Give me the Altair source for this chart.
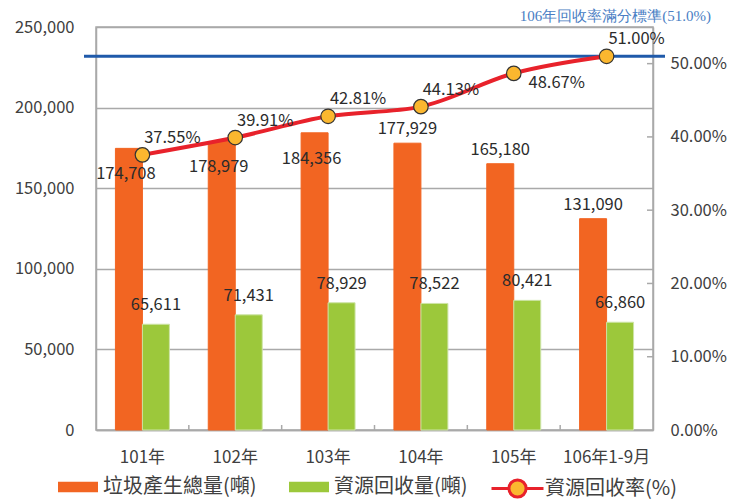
import altair as alt
import pandas as pd

# ---------------- data ----------------
years = ["101年", "102年", "103年", "104年", "105年", "106年1-9月"]
total_waste = [174708, 178979, 184356, 177929, 165180, 131090]
recycled = [65611, 71431, 78929, 78522, 80421, 66860]
recycle_rate = [0.3755, 0.3991, 0.4281, 0.4413, 0.4867, 0.5100]
series_names = ["垃圾產生總量(噸)", "資源回收量(噸)", "資源回收率(%)"]
target_rate = [0.51]
target_label = ["106年回收率滿分標準(51.0%)"]
left_ticks = [0, 50000, 100000, 150000, 200000, 250000]
right_ticks = [0.0, 0.1, 0.2, 0.3, 0.4, 0.5]

# ---------------- style ----------------
ORANGE = "#F26522"
GREEN = "#9CC83B"
GREEN_EDGE = "#CDE4A6"
RED = "#E8222B"
GOLD = "#FBB72F"
BLUE = "#1F5AAA"
BLUE_TEXT = "#4A7EC4"
GRID = "#A9A9A9"
TEXT = "#404040"
LABEL = "#2B2B2B"
FONT = "Noto Sans CJK TC"
W, H = 557, 403
LEFT_MAX, RIGHT_MAX = 250000, 0.55

bars_df = pd.DataFrame({
    "year": years * 2,
    "series": [series_names[0]] * len(years) + [series_names[1]] * len(years),
    "value": total_waste + recycled,
    "rate": recycle_rate * 2,
})
rate_df = pd.DataFrame({"year": years, "rate": recycle_rate,
                        "series": [series_names[2]] * len(years)})
target_df = pd.DataFrame({"rate": target_rate, "label": target_label})
xtick_df = pd.DataFrame({"year": years[1:]})
rtick_df = pd.DataFrame({"rate": right_ticks[1:]})

RECT_PATH = "M-1,-0.26H1V0.26H-1Z"
LINE_PATH = ("M-1,0H-0.33M0.33,0H1M-0.33,0A0.33,0.33,0,1,1,0.33,0"
             "A0.33,0.33,0,1,1,-0.33,0Z")

leg_common = dict(title=None, orient="none", direction="horizontal",
                  labelFont=FONT, labelFontSize=20, labelColor=TEXT,
                  labelLimit=400)
bar_legend = alt.Legend(legendX=-38, legendY=440, symbolType=RECT_PATH,
                        symbolSize=1600, symbolStrokeWidth=0, columnPadding=32,
                        labelOffset=5, **leg_common)
rate_legend = alt.Legend(legendX=394, legendY=434, symbolType=LINE_PATH,
                         symbolSize=2704, symbolStrokeWidth=3,
                         symbolFillColor=GOLD, labelOffset=0, **leg_common)


def x_enc(**kw):
    return alt.X(
        "year:N",
        scale=alt.Scale(domain=years, paddingInner=0, paddingOuter=0),
        axis=alt.Axis(title=None, labelAngle=0, ticks=False, labelPadding=19,
                      labelFontSize=17, labelFont=FONT, labelColor=TEXT,
                      domainColor=GRID, domainWidth=1.5),
        **kw,
    )


y_left = alt.Y(
    "value:Q",
    scale=alt.Scale(domain=[0, LEFT_MAX], nice=False),
    axis=alt.Axis(title=None, values=left_ticks, format=",.0f", grid=True,
                  gridColor=GRID, gridWidth=1.5, ticks=False, labelPadding=22,
                  labelFontSize=16.5, labelFont=FONT, labelColor=TEXT,
                  domainColor=GRID, domainWidth=1.5),
)
y_right = alt.Y(
    "rate:Q",
    scale=alt.Scale(domain=[0, RIGHT_MAX], nice=False),
    axis=alt.Axis(title=None, orient="right", values=right_ticks, format=".2%",
                  grid=False, ticks=False, labelPadding=17, labelFontSize=16.5,
                  labelFont=FONT, labelColor=TEXT, domainColor=GRID,
                  domainWidth=1.5),
)
x_off = alt.XOffset("series:N",
                    scale=alt.Scale(domain=series_names[:2], paddingInner=0,
                                    paddingOuter=0.72))

# ---------------- left (tonnage) layer ----------------
base_bars = alt.Chart(bars_df).transform_calculate(
    near=f"abs(datum.rate * {LEFT_MAX} / {RIGHT_MAX} - datum.value) < 15000"
)

bars = base_bars.mark_bar(strokeWidth=1).encode(
    x=x_enc(), xOffset=x_off, y=y_left,
    fill=alt.Fill("series:N",
                  scale=alt.Scale(domain=series_names[:2], range=[ORANGE, GREEN]),
                  legend=bar_legend),
    stroke=alt.condition(alt.datum.series == series_names[1],
                         alt.value(GREEN_EDGE), alt.value(ORANGE)),
)

txt = dict(font=FONT, fontSize=16.5, color=LABEL, baseline="middle")
total_above = base_bars.mark_text(dy=-14, **txt).encode(
    x=x_enc(), xOffset=x_off, y=y_left, text=alt.Text("value:Q", format=",.0f")
).transform_filter(
    (alt.datum.series == series_names[0]) & (alt.datum.near == False)
)
total_below = base_bars.mark_text(dy=26, dx=-3, **txt).encode(
    x=x_enc(), xOffset=x_off, y=y_left, text=alt.Text("value:Q", format=",.0f")
).transform_filter(
    (alt.datum.series == series_names[0]) & (alt.datum.near == True)
)
recycled_lbl = base_bars.mark_text(dy=-19, **txt).encode(
    x=x_enc(), xOffset=x_off, y=y_left, text=alt.Text("value:Q", format=",.0f")
).transform_filter(alt.datum.series == series_names[1])

xticks = alt.Chart(xtick_df).mark_rule(color=GRID, strokeWidth=1.5).encode(
    x=x_enc(bandPosition=0), y=alt.value(H - 5), y2=alt.value(H)
)

left_layer = alt.layer(bars, xticks, total_above, total_below, recycled_lbl)

# ---------------- right (rate) layer ----------------
rticks = alt.Chart(rtick_df).mark_rule(color=GRID, strokeWidth=1.5).encode(
    y=y_right, x=alt.value(W - 6), x2=alt.value(W)
)
target_rule = alt.Chart(target_df).mark_rule(color=BLUE, strokeWidth=3).encode(
    y=y_right, x=alt.value(-12), x2=alt.value(W + 12)
)
target_text = alt.Chart(target_df).mark_text(
    align="right", baseline="middle", dy=-40, font="Liberation Serif",
    fontSize=15, color=BLUE_TEXT
).encode(y=y_right, x=alt.value(W + 58), text="label:N")

line = alt.Chart(rate_df).mark_line(strokeWidth=4, interpolate="monotone").encode(
    x=x_enc(), y=y_right,
    stroke=alt.Stroke("series:N",
                      scale=alt.Scale(domain=[series_names[2]], range=[RED]),
                      legend=rate_legend),
)
points = alt.Chart(rate_df).mark_circle(
    size=210, color=GOLD, opacity=1, stroke="#333333", strokeWidth=1.2
).encode(x=x_enc(), y=y_right)

base_rate = alt.Chart(rate_df).transform_calculate(
    near_target=f"{target_rate[0]} - datum.rate > 0 && {target_rate[0]} - datum.rate < 0.03"
)
rate_above = base_rate.mark_text(dx=30, dy=-17, **txt).encode(
    x=x_enc(), y=y_right, text=alt.Text("rate:Q", format=".2%")
).transform_filter(alt.datum.near_target == False)
rate_below = base_rate.mark_text(dx=43, dy=10, **txt).encode(
    x=x_enc(), y=y_right, text=alt.Text("rate:Q", format=".2%")
).transform_filter(alt.datum.near_target == True)

right_layer = alt.layer(rticks, target_rule, line, points, rate_above,
                        rate_below, target_text)

chart = alt.layer(left_layer, right_layer).resolve_scale(
    y="independent"
).properties(
    width=W, height=H,
    autosize=alt.AutoSizeParams(type="none"),
    padding={"left": 88, "top": 19, "right": 79, "bottom": 70},
).configure_view(
    stroke=GRID, strokeWidth=1.5
).configure_legend(
    symbolBaseFillColor=GOLD
)

chart.save("out.html", embed_options={"renderer": "svg", "actions": False})
